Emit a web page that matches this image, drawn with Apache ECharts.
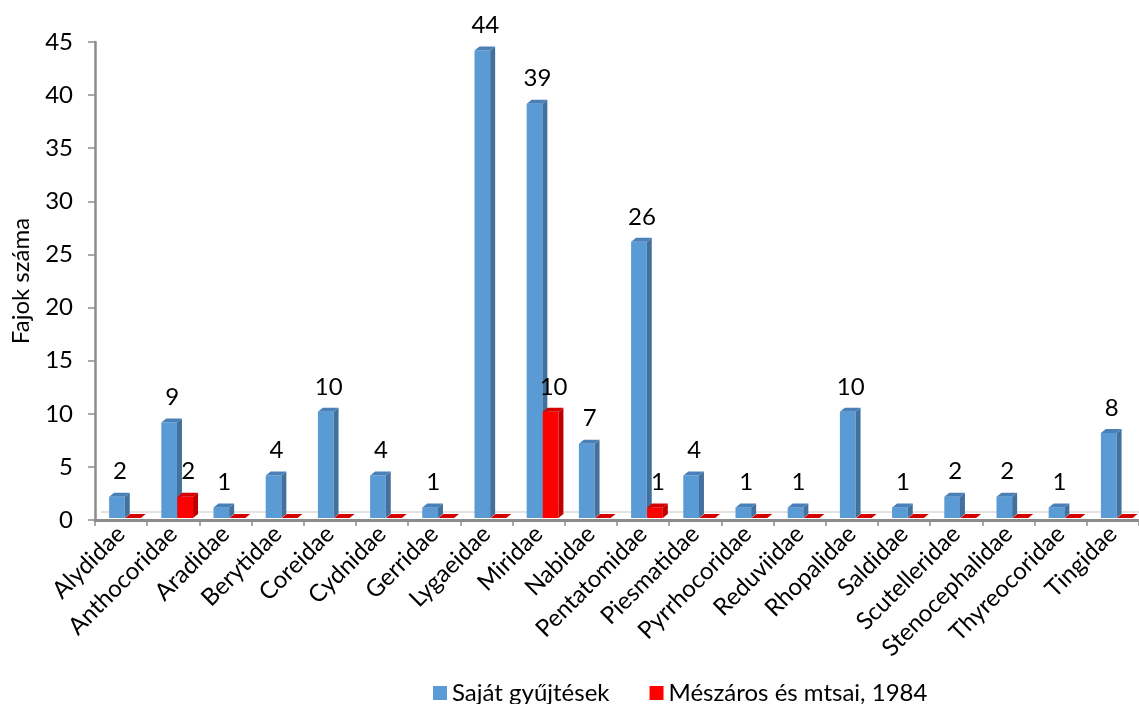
<!DOCTYPE html>
<html>
<head>
<meta charset="utf-8">
<title>Fajok száma családonként</title>
<script src="https://cdn.jsdelivr.net/npm/echarts@6/dist/echarts.min.js"></script>
<style>
  html, body { margin: 0; padding: 0; background: #ffffff; }
  #chart { width: 1139px; height: 704px; }
</style>
</head>
<body>
<div id="chart"></div>
<script>
// Families on the category axis
const categories = [
  'Alydidae', 'Anthocoridae', 'Aradidae', 'Berytidae', 'Coreidae',
  'Cydnidae', 'Gerridae', 'Lygaeidae', 'Miridae', 'Nabidae',
  'Pentatomidae', 'Piesmatidae', 'Pyrrhocoridae', 'Reduviidae', 'Rhopalidae',
  'Saldidae', 'Scutelleridae', 'Stenocephalidae', 'Thyreocoridae', 'Tingidae'
];

// Species counts per family
const sajatGyujtesek = [2, 9, 1, 4, 10, 4, 1, 44, 39, 7, 26, 4, 1, 1, 10, 1, 2, 2, 1, 8];
const meszaros1984  = [0, 2, 0, 0, 0, 0, 0, 0, 10, 0, 1, 0, 0, 0, 0, 0, 0, 0, 0, 0];

const seriesNames = ['Saját gyűjtések', 'Mészáros és mtsai, 1984'];

// Y axis range
const yMin = 0;
const yMax = 45;
const yStep = 5;

const FONT = 'Lato';
const FONT_SIZE = 24;

// Face colours for the extruded columns: front, side, top
const palettes = [
  { front: '#5b9bd5', side: '#41719c', top: '#4a80b8' },
  { front: '#ff0000', side: '#c00000', top: '#d40000' }
];

// Draws one column as a small box (front, right side, top) with its value above.
// The first series also draws the back edge of the floor for its band.
function makeRenderer(seriesIdx) {
  const pal = palettes[seriesIdx];
  return function (params, api) {
    const idx = api.value(0);
    const val = api.value(1);
    const base = api.coord([idx, 0]);
    const topPt = api.coord([idx, val]);
    const band = api.size([1, 0])[0];
    const cx = base[0];
    const w = band * 0.3;
    const x0 = seriesIdx === 0 ? cx - band * 0.23 : cx + band * 0.078;
    const x1 = x0 + w;
    const lift = 2;
    const yb = base[1] - lift;
    const yt = topPt[1] - lift;
    const dx = 5, dy = -4;
    const children = [];
    if (seriesIdx === 0) {
      const floorY = base[1] - 8;
      children.push({
        type: 'line',
        shape: {
          x1: idx === 0 ? cx - band / 2 + 6 : cx - band / 2,
          y1: floorY,
          x2: cx + band / 2,
          y2: floorY
        },
        style: { stroke: '#d9d9d9', lineWidth: 1.5 },
        z2: -1
      });
    }
    if (val > 0) {
      children.push({
        type: 'rect',
        shape: { x: x0, y: yt, width: w, height: yb - yt },
        style: { fill: pal.front }
      });
      children.push({
        type: 'polygon',
        shape: { points: [[x1, yt], [x1 + dx, yt + dy], [x1 + dx, yb + dy], [x1, yb]] },
        style: { fill: pal.side }
      });
    }
    children.push({
      type: 'polygon',
      shape: { points: [[x0, yt], [x0 + dx, yt + dy], [x1 + dx, yt + dy], [x1, yt]] },
      style: { fill: pal.top }
    });
    if (val > 0) {
      children.push({
        type: 'text',
        style: {
          text: String(val),
          x: (x0 + x1) / 2 + 3,
          y: yt - 25,
          align: 'center',
          verticalAlign: 'middle',
          fill: '#000000',
          font: FONT_SIZE + 'px ' + FONT
        }
      });
    }
    return { type: 'group', children: children };
  };
}

function seriesData(values) {
  return values.map(function (v, i) { return [i, v]; });
}

const chart = echarts.init(document.getElementById('chart'), null, { renderer: 'canvas' });

chart.setOption({
  animation: false,
  backgroundColor: '#ffffff',
  textStyle: { fontFamily: FONT },
  grid: {
    left: 95, top: 42, width: 1044, height: 478,
    containLabel: false,
    outerBoundsMode: 'none'
  },
  legend: {
    left: 428,
    top: 676,
    icon: 'rect',
    itemWidth: 14,
    itemHeight: 14,
    itemGap: 40,
    textStyle: { fontFamily: FONT, fontSize: FONT_SIZE, color: '#000000' },
    data: seriesNames
  },
  xAxis: {
    type: 'category',
    data: categories,
    boundaryGap: true,
    axisLine: { show: true, lineStyle: { color: '#8c8c8c', width: 3 } },
    axisTick: { show: true, length: 6, lineStyle: { color: '#8c8c8c', width: 1.5 } },
    axisLabel: {
      rotate: 45,
      margin: 10,
      interval: 0,
      fontFamily: FONT,
      fontSize: FONT_SIZE,
      color: '#000000'
    },
    splitLine: { show: false }
  },
  yAxis: {
    type: 'value',
    min: yMin,
    max: yMax,
    interval: yStep,
    name: 'Fajok száma',
    nameLocation: 'middle',
    nameGap: 62,
    nameTextStyle: { fontFamily: FONT, fontSize: FONT_SIZE, color: '#000000' },
    axisLine: { show: true, lineStyle: { color: '#8c8c8c', width: 2.5 } },
    axisTick: { show: true, length: 7, lineStyle: { color: '#8c8c8c', width: 1.5 } },
    axisLabel: { margin: 22, fontFamily: FONT, fontSize: FONT_SIZE, color: '#000000' },
    splitLine: { show: false }
  },
  series: [
    {
      name: seriesNames[0],
      type: 'custom',
      renderItem: makeRenderer(0),
      itemStyle: { color: palettes[0].front },
      encode: { x: 0, y: 1 },
      data: seriesData(sajatGyujtesek),
      z: 3
    },
    {
      name: seriesNames[1],
      type: 'custom',
      renderItem: makeRenderer(1),
      itemStyle: { color: palettes[1].front },
      encode: { x: 0, y: 1 },
      data: seriesData(meszaros1984),
      z: 4
    }
  ]
});
</script>
</body>
</html>
